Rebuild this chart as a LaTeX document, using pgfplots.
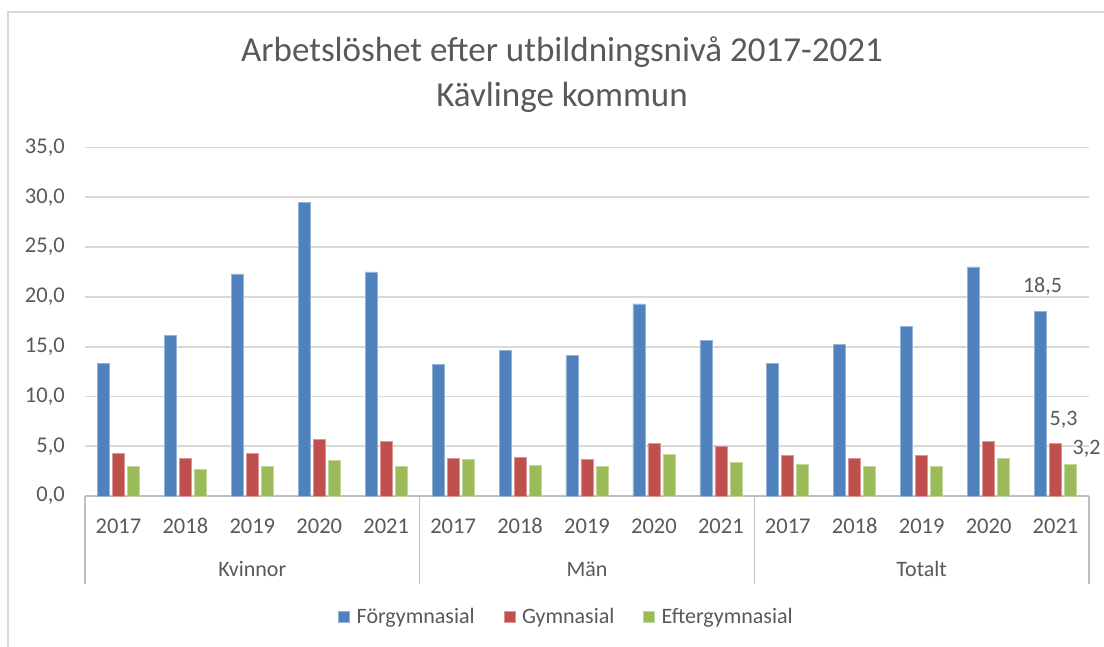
\documentclass[border=0pt]{standalone}
\usepackage{fontspec}
\setmainfont{Carlito}
\usepackage{pgfplots}
\pgfplotsset{compat=1.18}
\definecolor{cblue}{HTML}{4F81BD}
\definecolor{cred}{HTML}{C0504D}
\definecolor{cgreen}{HTML}{9BBB59}
\definecolor{ctext}{HTML}{595959}
\definecolor{cgrid}{HTML}{D9D9D9}
\definecolor{caxis}{HTML}{BFBFBF}
\begin{document}
\begin{tikzpicture}[x=1pt,y=1pt]
\useasboundingbox (0,0) rectangle (1104,646);
\fill[white] (0,0) rectangle (1104,646);
\draw[cgrid, line width=2pt] (8,-2) -- (8,634) -- (1106,634);
\node[text=ctext, font=\fontsize{35}{40}\selectfont] at (562,594) {Arbetslöshet efter utbildningsnivå 2017-2021};
\node[text=ctext, font=\fontsize{35}{40}\selectfont] at (562,549) {Kävlinge kommun};
\begin{axis}[
  at={(85pt,150pt)}, anchor=south west,
  scale only axis, width=1004pt, height=348.5pt,
  xmin=-0.5, xmax=14.5, ymin=0, ymax=35,
  ybar=3pt, bar width=12pt,
  xtick={0,...,14},
  xticklabels={2017,2018,2019,2020,2021,2017,2018,2019,2020,2021,2017,2018,2019,2020,2021},
  ytick={0,5,...,35},
  /pgf/number format/assume math mode=true,
  yticklabel style={/pgf/number format/fixed, /pgf/number format/fixed zerofill, /pgf/number format/precision=1, /pgf/number format/use comma, anchor=east, inner sep=0pt},
  yticklabel shift=20pt,
  xticklabel style={anchor=center, inner sep=0pt},
  xticklabel shift=30pt,
  ymajorgrids, grid style={cgrid, line width=1.8pt},
  axis x line*=bottom, axis y line*=left,
  y axis line style={draw=none},
  x axis line style={caxis, line width=1.5pt},
  major tick length=0pt,
  extra x ticks={-0.5,4.5,9.5,14.5}, extra x tick labels={},
  extra x tick style={major tick length=88pt, tick align=outside, tick style={caxis, line width=1.5pt}, grid=none},
  tick label style={font=\fontsize{22.5}{26}\selectfont, text=ctext},
  legend style={at={(0.4796,-0.347)}, anchor=center, draw=none, fill=none,
    font=\fontsize{22}{26}\selectfont, text=ctext,
    /tikz/every even column/.append style={column sep=27pt}},
  legend columns=3,
  legend image code/.code={\fill[#1] (0pt,-5.5pt) rectangle (11pt,5.5pt); \path[draw=none, fill=none] (0pt,-5.5pt) rectangle (16pt,5.5pt);},
  clip=false,
]
\addplot[fill=cblue, draw=cblue!60!white, line width=0.6pt] coordinates {
(0,13.3) (1,16.1) (2,22.3) (3,29.5) (4,22.5)
(5,13.2) (6,14.6) (7,14.1) (8,19.3) (9,15.6)
(10,13.3) (11,15.2) (12,17.0) (13,23.0) (14,18.5)};
\addplot[fill=cred, draw=cred!60!white, line width=0.6pt] coordinates {
(0,4.3) (1,3.8) (2,4.3) (3,5.7) (4,5.5)
(5,3.8) (6,3.9) (7,3.7) (8,5.3) (9,5.0)
(10,4.1) (11,3.8) (12,4.1) (13,5.5) (14,5.3)};
\addplot[fill=cgreen, draw=cgreen!60!white, line width=0.6pt] coordinates {
(0,3.0) (1,2.7) (2,3.0) (3,3.6) (4,3.0)
(5,3.7) (6,3.1) (7,3.0) (8,4.2) (9,3.4)
(10,3.2) (11,3.0) (12,3.0) (13,3.8) (14,3.2)};
\legend{Förgymnasial,Gymnasial,Eftergymnasial}
\node[text=ctext, font=\fontsize{22}{26}\selectfont] at (axis cs:2,0) [yshift=-73pt] {Kvinnor};
\node[text=ctext, font=\fontsize{22}{26}\selectfont] at (axis cs:7,0) [yshift=-73pt] {Män};
\node[text=ctext, font=\fontsize{22}{26}\selectfont] at (axis cs:12,0) [yshift=-73pt] {Totalt};
\node[text=ctext, font=\fontsize{22}{26}\selectfont] at (axis cs:14,18.5) [xshift=-13pt, yshift=25pt] {18,5};
\node[text=ctext, font=\fontsize{22}{26}\selectfont] at (axis cs:14,5.3) [xshift=8pt, yshift=23pt] {5,3};
\node[text=ctext, font=\fontsize{22}{26}\selectfont] at (axis cs:14,3.2) [xshift=31pt, yshift=15pt] {3,2};
\end{axis}
\end{tikzpicture}
\end{document}
